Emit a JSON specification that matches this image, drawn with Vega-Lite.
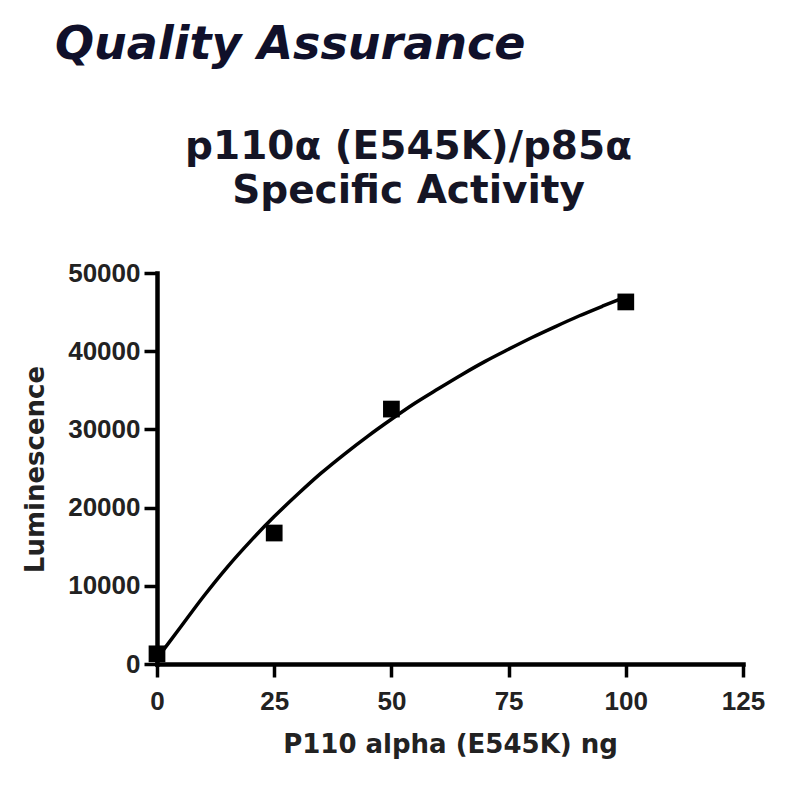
{
  "$schema": "https://vega.github.io/schema/vega-lite/v6.json",
  "autosize": "none",
  "width": 586,
  "height": 391,
  "padding": {"left": 157, "top": 273, "right": 57, "bottom": 136},
  "background": "white",
  "config": {"view": {"stroke": null}},
  "title": {
    "text": "Quality Assurance",
    "anchor": "start",
    "frame": "group",
    "dx": -102,
    "offset": 58,
    "font": "DejaVu Sans",
    "fontSize": 46,
    "fontStyle": "italic",
    "fontWeight": "bold",
    "color": "#10102a"
  },
  "layer": [
    {
      "data": {"values": [
        {"ng": 0, "luminescence": 700},
        {"ng": 5, "luminescence": 4700},
        {"ng": 10, "luminescence": 8700},
        {"ng": 15, "luminescence": 12400},
        {"ng": 20, "luminescence": 15750},
        {"ng": 25, "luminescence": 18850},
        {"ng": 30, "luminescence": 21700},
        {"ng": 35, "luminescence": 24400},
        {"ng": 40, "luminescence": 26850},
        {"ng": 45, "luminescence": 29150},
        {"ng": 50, "luminescence": 31300},
        {"ng": 55, "luminescence": 33350},
        {"ng": 60, "luminescence": 35200},
        {"ng": 65, "luminescence": 37000},
        {"ng": 70, "luminescence": 38700},
        {"ng": 75, "luminescence": 40250},
        {"ng": 80, "luminescence": 41750},
        {"ng": 85, "luminescence": 43150},
        {"ng": 90, "luminescence": 44500},
        {"ng": 95, "luminescence": 45750},
        {"ng": 100, "luminescence": 46950}
      ]},
      "mark": {"type": "line", "color": "black", "strokeWidth": 3.5, "interpolate": "monotone"},
      "encoding": {
        "x": {
          "field": "ng", "type": "quantitative",
          "scale": {"domain": [0, 125], "nice": false, "zero": true},
          "axis": {
            "orient": "bottom",
            "values": [0, 25, 50, 75, 100, 125],
            "grid": false,
            "domainColor": "black", "domainWidth": 4.5, "domainCap": "square",
            "tickColor": "black", "tickWidth": 3.5, "tickSize": 13,
            "labelFont": "Liberation Sans", "labelFontSize": 26, "labelFontWeight": "bold",
            "labelColor": "#222222", "labelPadding": 11, "labelFlush": false,
            "title": "P110 alpha (E545K) ng",
            "titleFont": "DejaVu Sans", "titleFontSize": 26, "titleFontWeight": "bold",
            "titleColor": "#222222", "titleBaseline": "alphabetic", "titleY": 88
          }
        },
        "y": {
          "field": "luminescence", "type": "quantitative",
          "scale": {"domain": [0, 50000], "nice": false},
          "axis": {
            "values": [0, 10000, 20000, 30000, 40000, 50000],
            "format": "d",
            "grid": false,
            "domainColor": "black", "domainWidth": 4.5, "domainCap": "square",
            "tickColor": "black", "tickWidth": 3.5, "tickSize": 13,
            "labelFont": "Liberation Sans", "labelFontSize": 26, "labelFontWeight": "bold",
            "labelColor": "#222222", "labelPadding": 4, "labelFlush": false,
            "title": "Luminescence",
            "titleFont": "DejaVu Sans", "titleFontSize": 26, "titleFontWeight": "bold",
            "titleColor": "#222222", "titleBaseline": "alphabetic", "titleAngle": -90,
            "titleX": -114, "titleY": 196, "titleAlign": "center"
          }
        }
      }
    },
    {
      "data": {"values": [
        {"ng": 0, "luminescence": 1300},
        {"ng": 25, "luminescence": 16750},
        {"ng": 50, "luminescence": 32600},
        {"ng": 100, "luminescence": 46300}
      ]},
      "mark": {"type": "point", "shape": "square", "filled": true, "color": "black", "opacity": 1, "size": 280},
      "encoding": {
        "x": {
          "field": "ng", "type": "quantitative",
          "axis": {
            "orient": "top",
            "domain": false, "ticks": false, "labels": false, "grid": false,
            "title": ["p110α (E545K)/p85α", "Specific Activity"],
            "titleFont": "DejaVu Sans", "titleFontSize": 39, "titleFontWeight": "bold",
            "titleColor": "#151525", "titleLineHeight": 44,
            "titleAlign": "center", "titleBaseline": "alphabetic", "titleAngle": 0,
            "titleX": 251, "titleY": -115
          }
        },
        "y": {"field": "luminescence", "type": "quantitative"}
      }
    }
  ],
  "resolve": {"axis": {"x": "independent"}}
}
